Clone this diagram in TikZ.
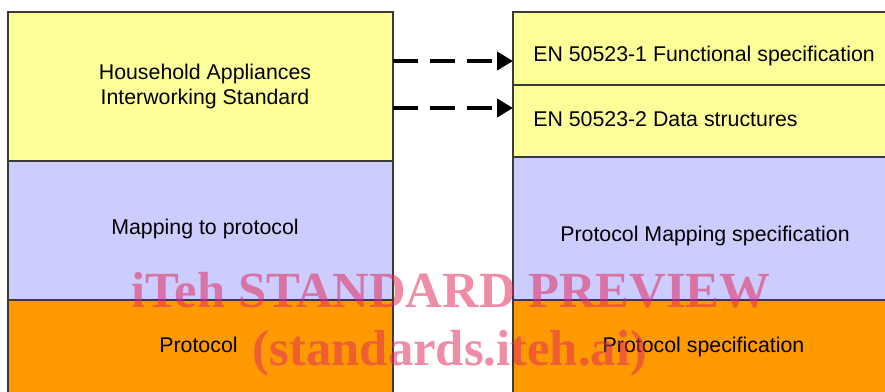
\documentclass[tikz,border=0pt]{standalone}
\usepackage{fontspec}
\setmainfont{Liberation Sans}
\newfontfamily\markfont{Liberation Serif}
\usetikzlibrary{arrows.meta}
\def\px{0.75pt}
\definecolor{layeryellow}{HTML}{FFFF99}
\definecolor{layerlilac}{HTML}{CCCCFF}
\definecolor{layerorange}{HTML}{FF9900}
\definecolor{layerline}{HTML}{3A3A3A}
\definecolor{markred}{RGB}{226,45,92}
\tikzset{
  layer/.style={draw=layerline, line width=0.8pt, inner sep=0pt, outer sep=0pt,
    anchor=north west, rectangle},
  label/.style={font=\fontsize{16}{18.75}\selectfont, inner sep=0pt, text=black},
  dasharrow/.style={line width=3pt, dash pattern=on 18.75pt off 9pt,
    -{Triangle[length=12pt,width=13.5pt]}},
  stamptext/.style={font=\markfont\bfseries\fontsize{38}{40}\selectfont, text=markred,
    text opacity=0.55, inner sep=0pt}
}
\begin{document}
\begin{tikzpicture}[x=\px, y=-\px]
\useasboundingbox (0,0) rectangle (885,392);
\begin{scope}
\clip (0,0) rectangle (885,392);
% left stack
\node[layer, fill=layeryellow, minimum width=385*\px, minimum height=149*\px] (has) at (8,12) {};
\node[layer, fill=layerlilac, minimum width=385*\px, minimum height=139*\px] (map) at (8,161) {};
\node[layer, fill=layerorange, minimum width=385*\px, minimum height=110*\px] (proto) at (8,300) {};
% right stack
\node[layer, fill=layeryellow, minimum width=380*\px, minimum height=73*\px] (en1) at (513,12) {};
\node[layer, fill=layeryellow, minimum width=380*\px, minimum height=72*\px] (en2) at (513,85) {};
\node[layer, fill=layerlilac, minimum width=380*\px, minimum height=143*\px] (pmap) at (513,157) {};
\node[layer, fill=layerorange, minimum width=380*\px, minimum height=110*\px] (pspec) at (513,300) {};
\end{scope}

% labels
\node[label, align=center] (hasT) at (205,86) {Household Appliances\\Interworking Standard};
\node[label, anchor=base] (mapT) at (205,234) {Mapping to protocol};
\node[label, anchor=base] (protoT) at (198.5,352) {Protocol};
\node[label, anchor=base west] (en1T) at (533,61.7) {EN 50523-1 Functional specification};
\node[label, anchor=base west] (en2T) at (533,126.7) {EN 50523-2 Data structures};
\node[label, anchor=base] (pmapT) at (705,241) {Protocol Mapping specification};
\node[label, anchor=base] (pspecT) at (703.5,352) {Protocol specification};

% references from the standard to its parts
\coordinate (r1) at (0,61);
\coordinate (r2) at (0,108);
\draw[dasharrow] (has.east |- r1) -- (en1.west |- r1);
\draw[dasharrow] (has.east |- r2) -- (en2.west |- r2);

% watermark
\node[stamptext, anchor=base] (wm1) at (451,307) {iTeh STANDARD PREVIEW};
\node[stamptext, anchor=base] (wm2) at (450,365) {(standards.iteh.ai)};
\end{tikzpicture}
\end{document}
